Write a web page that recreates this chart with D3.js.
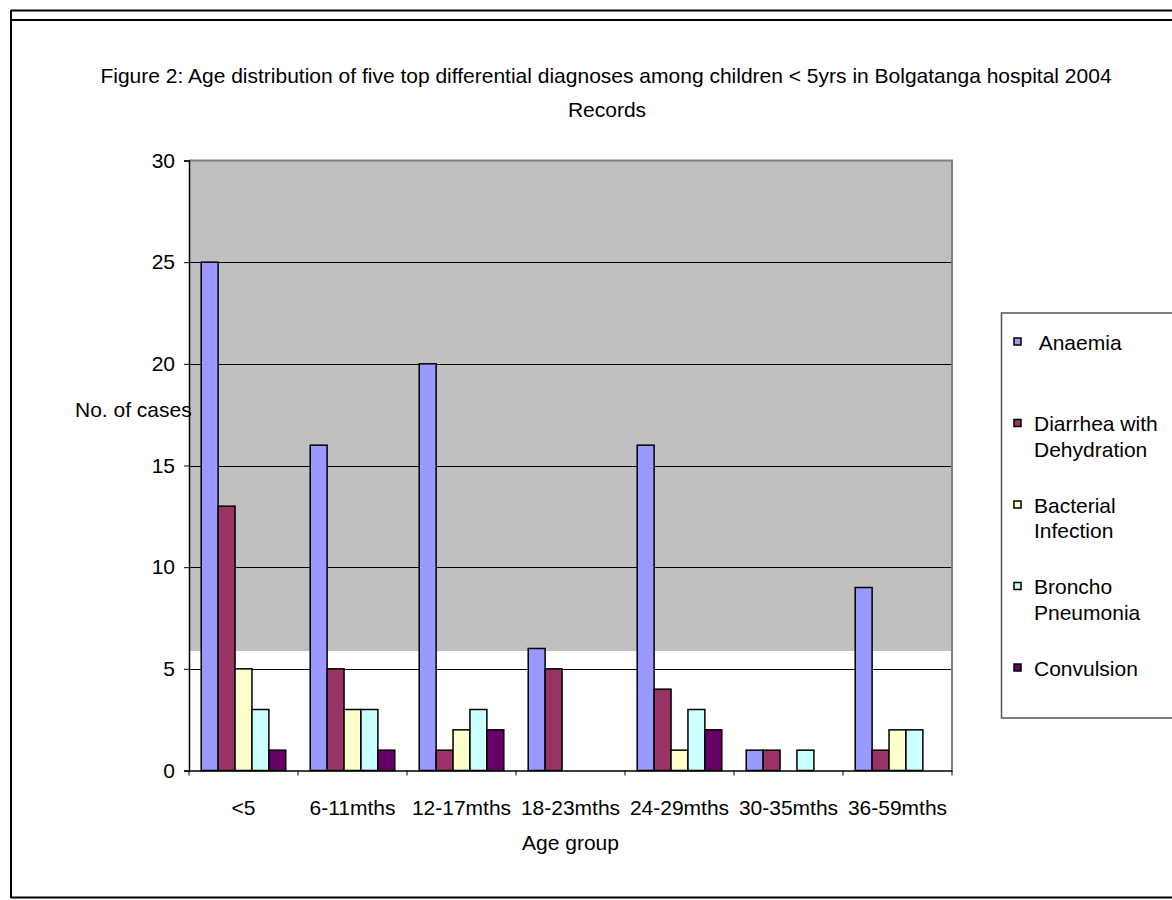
<!DOCTYPE html>
<html>
<head>
<meta charset="utf-8">
<script src="https://cdn.jsdelivr.net/npm/d3@7"></script>
<style>
  html, body { margin: 0; padding: 0; background: #fff; }
  svg text { font-family: "Liberation Sans", Arial, sans-serif; fill: #000; }
</style>
</head>
<body>
<svg id="chart" width="1172" height="900"></svg>
<script>
// Age groups and diagnoses
const ageGroups = ["<5", "6-11mths", "12-17mths", "18-23mths", "24-29mths", "30-35mths", "36-59mths"];
const seriesNames = ["Anaemia", "Diarrhea with Dehydration", "Bacterial Infection", "Broncho Pneumonia", "Convulsion"];
const legendLines = [[" Anaemia"], ["Diarrhea with", "Dehydration"], ["Bacterial", "Infection"], ["Broncho", "Pneumonia"], ["Convulsion"]];
const seriesColors = ["#9999FF", "#993366", "#FFFFCC", "#CCFFFF", "#660066"];

// Cases per age group, one array per diagnosis
const anaemia    = [25, 16, 20, 6, 16, 1, 9];
const diarrhea   = [13, 5, 1, 5, 4, 1, 1];
const bacterial  = [5, 3, 2, 0, 1, 0, 2];
const broncho    = [3, 3, 3, 0, 3, 1, 2];
const convulsion = [1, 1, 2, 0, 2, 0, 0];
const seriesValues = [anaemia, diarrhea, bacterial, broncho, convulsion];

const yTicks = [0, 5, 10, 15, 20, 25, 30];

const FS = 21;
const svg = d3.select("#chart");

// Outer frame
svg.append("line").attr("x1", 11).attr("x2", 1172).attr("y1", 10.5).attr("y2", 10.5).attr("stroke", "#000").attr("stroke-width", 2);
svg.append("line").attr("x1", 11).attr("x2", 1172).attr("y1", 20).attr("y2", 20).attr("stroke", "#000").attr("stroke-width", 2);
svg.append("line").attr("x1", 11).attr("x2", 11).attr("y1", 10).attr("y2", 898).attr("stroke", "#000").attr("stroke-width", 2);
svg.append("line").attr("x1", 11).attr("x2", 1172).attr("y1", 897.5).attr("y2", 897.5).attr("stroke", "#000").attr("stroke-width", 2);

// Title
const title = svg.append("text").attr("text-anchor", "middle").attr("font-size", FS);
title.append("tspan").attr("x", 606).attr("y", 82.5)
  .text("Figure 2: Age distribution of five top differential diagnoses among children < 5yrs in Bolgatanga hospital 2004");
title.append("tspan").attr("x", 607).attr("y", 116.5).text("Records");

// Plot area
const plot = { left: 189, right: 952, top: 160.5, bottom: 770.5 };
const shadeBottom = 651;

const x0 = d3.scaleBand().domain(ageGroups).range([plot.left, plot.right]).padding(0);
const bw = x0.bandwidth();
const x1 = d3.scaleBand().domain(seriesNames).range([bw * 0.112, bw * 0.888]).padding(0);
const y = d3.scaleLinear().domain([0, 30]).range([plot.bottom, plot.top]);

svg.append("rect").attr("x", plot.left).attr("y", plot.top)
  .attr("width", plot.right - plot.left).attr("height", shadeBottom - plot.top)
  .attr("fill", "#C0C0C0");

// Gridlines
svg.append("g").selectAll("line").data(yTicks.filter(t => t > 0 && t < 30)).join("line")
  .attr("x1", plot.left).attr("x2", plot.right)
  .attr("y1", d => Math.round(y(d)) + 0.5).attr("y2", d => Math.round(y(d)) + 0.5)
  .attr("stroke", "#000").attr("stroke-width", 1);

// Plot border (top and right)
svg.append("line").attr("x1", plot.left).attr("x2", plot.right + 1).attr("y1", plot.top).attr("y2", plot.top)
  .attr("stroke", "#808080").attr("stroke-width", 2);
svg.append("line").attr("x1", plot.right).attr("x2", plot.right).attr("y1", plot.top).attr("y2", plot.bottom)
  .attr("stroke", "#808080").attr("stroke-width", 2);

// Bars
const groups = svg.append("g").selectAll("g").data(ageGroups).join("g")
  .attr("transform", d => `translate(${x0(d)},0)`);
groups.selectAll("rect")
  .data((g, gi) => seriesNames.map((s, si) => ({ s, si, v: seriesValues[si][gi] })).filter(d => d.v > 0))
  .join("rect")
  .attr("x", d => x1(d.s))
  .attr("y", d => y(d.v))
  .attr("width", x1.bandwidth())
  .attr("height", d => y(0) - y(d.v))
  .attr("fill", d => seriesColors[d.si])
  .attr("stroke", "#000").attr("stroke-width", 1.5);

// Y axis
const yAxis = svg.append("g").attr("transform", `translate(${plot.left},0)`)
  .call(d3.axisLeft(y).tickValues(yTicks).tickSize(5).tickPadding(9).tickFormat(d3.format("d")));
yAxis.select(".domain").attr("stroke", "#000").attr("stroke-width", 1.5);
yAxis.selectAll(".tick line").attr("stroke", "#000");
yAxis.selectAll("text").attr("font-size", FS).attr("font-family", "Liberation Sans, Arial, sans-serif");

// X axis
const xAxis = svg.append("g").attr("transform", `translate(0,${plot.bottom})`)
  .call(d3.axisBottom(x0).tickSize(0).tickPadding(30));
xAxis.select(".domain").attr("stroke", "#000").attr("stroke-width", 1.5);
xAxis.selectAll("text").attr("font-size", FS).attr("font-family", "Liberation Sans, Arial, sans-serif");
xAxis.append("g").selectAll("line").data(ageGroups.concat(["end"])).join("line")
  .attr("x1", (d, i) => plot.left + i * bw).attr("x2", (d, i) => plot.left + i * bw)
  .attr("y1", 0).attr("y2", 5).attr("stroke", "#000");

// Axis titles
svg.append("text").attr("x", 75).attr("y", 416.5).attr("font-size", FS).text("No. of cases");
svg.append("text").attr("x", (plot.left + plot.right) / 2).attr("y", 849.5)
  .attr("text-anchor", "middle").attr("font-size", FS).text("Age group");

// Legend
svg.append("rect").attr("x", 1001.5).attr("y", 313).attr("width", 200).attr("height", 405)
  .attr("fill", "#fff").attr("stroke", "#555").attr("stroke-width", 1.5);
const leg = svg.append("g").selectAll("g").data(seriesNames).join("g")
  .attr("transform", (d, i) => `translate(1014, ${342 + i * 81.5})`);
leg.append("rect").attr("x", 0).attr("y", -4).attr("width", 7).attr("height", 7)
  .attr("fill", (d, i) => seriesColors[i]).attr("stroke", "#000").attr("stroke-width", 1.5);
leg.each(function (d, i) {
  const t = d3.select(this).append("text").attr("font-size", FS).attr("xml:space", "preserve");
  legendLines[i].forEach((line, li) => {
    t.append("tspan").attr("x", 20).attr("y", 7.5 + li * 25.7).text(line);
  });
});
</script>
</body>
</html>
